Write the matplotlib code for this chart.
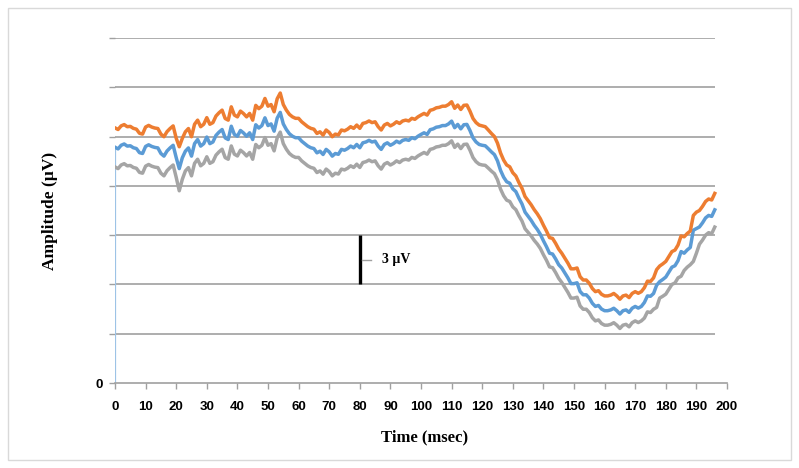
import matplotlib
matplotlib.use("Agg")
import matplotlib.pyplot as plt
from matplotlib.patches import Rectangle
import numpy as np

# ---------------- data ----------------
time_ms = list(range(0, 197))

orange = [15.53, 15.43, 15.65, 15.73, 15.60, 15.62, 15.50, 15.45, 15.20, 15.15,
          15.58, 15.68, 15.58, 15.52, 15.49, 15.15, 14.99, 15.30, 15.49, 15.65,
          14.90, 14.38, 14.89, 15.29, 15.49, 14.99, 15.75, 16.00, 15.60, 15.75,
          16.15, 15.75, 15.85, 16.25, 16.45, 16.61, 16.10, 16.00, 16.81, 16.31,
          16.20, 16.55, 16.40, 16.20, 16.41, 16.00, 16.90, 16.70, 16.85, 17.32,
          16.85, 16.95, 16.51, 17.30, 17.65, 16.95, 16.61, 16.35, 16.20, 16.11,
          16.11, 15.90, 15.75, 15.60, 15.50, 15.45, 15.19, 15.29, 15.09, 15.40,
          15.25, 14.99, 15.15, 15.10, 15.40, 15.35, 15.45, 15.60, 15.50, 15.70,
          15.50, 15.80, 15.85, 15.95, 15.85, 15.90, 15.60, 15.40, 15.70, 15.80,
          15.65, 15.75, 15.90, 15.80, 15.95, 16.00, 15.95, 16.11, 16.05, 16.20,
          16.31, 16.41, 16.31, 16.60, 16.65, 16.75, 16.78, 16.85, 16.85, 16.95,
          17.12, 16.72, 16.92, 16.65, 16.90, 16.92, 16.55, 16.10, 15.85, 15.70,
          15.65, 15.60, 15.40, 15.19, 15.00, 14.60, 14.00, 13.57, 13.27, 13.16,
          12.80, 12.60, 12.20, 11.85, 11.35, 11.10, 10.85, 10.55, 10.30, 10.00,
          9.61, 9.25, 8.85, 8.80, 8.50, 8.15, 7.90, 7.60, 7.30, 6.95,
          6.95, 7.00, 6.47, 6.27, 6.27, 6.07, 5.75, 5.56, 5.62, 5.40,
          5.30, 5.30, 5.35, 5.45, 5.30, 5.10, 5.30, 5.35, 5.20, 5.45,
          5.56, 5.46, 5.56, 5.80, 6.20, 6.18, 6.40, 6.90, 7.12, 7.25,
          7.40, 7.70, 8.00, 8.09, 8.40, 8.95, 8.90, 9.10, 9.25, 10.20,
          10.40, 10.50, 10.75, 11.05, 11.20, 11.14, 11.54]

blue = [14.35, 14.25, 14.47, 14.55, 14.42, 14.44, 14.32, 14.27, 14.02, 13.97,
        14.40, 14.50, 14.40, 14.34, 14.31, 13.97, 13.81, 14.12, 14.31, 14.47,
        13.72, 13.05, 13.71, 14.11, 14.31, 13.81, 14.57, 14.82, 14.42, 14.57,
        14.97, 14.57, 14.67, 15.07, 15.27, 15.43, 14.92, 14.82, 15.63, 15.13,
        15.02, 15.37, 15.22, 15.02, 15.23, 14.82, 15.72, 15.52, 15.67, 16.14,
        15.67, 15.77, 15.33, 16.12, 16.47, 15.77, 15.43, 15.17, 15.02, 14.93,
        14.93, 14.72, 14.57, 14.42, 14.32, 14.27, 14.01, 14.11, 13.91, 14.22,
        14.07, 13.81, 13.97, 13.92, 14.22, 14.17, 14.27, 14.42, 14.32, 14.52,
        14.32, 14.62, 14.67, 14.77, 14.67, 14.72, 14.42, 14.22, 14.52, 14.62,
        14.47, 14.57, 14.72, 14.62, 14.77, 14.82, 14.77, 14.93, 14.87, 15.02,
        15.13, 15.23, 15.13, 15.42, 15.47, 15.57, 15.60, 15.67, 15.67, 15.77,
        15.94, 15.54, 15.74, 15.47, 15.72, 15.74, 15.37, 14.92, 14.67, 14.52,
        14.47, 14.44, 14.26, 14.07, 13.90, 13.52, 12.94, 12.53, 12.25, 12.16,
        11.82, 11.65, 11.25, 10.90, 10.40, 10.15, 9.90, 9.60, 9.35, 9.05,
        8.66, 8.30, 7.90, 7.85, 7.55, 7.20, 7.00, 6.70, 6.40, 6.05,
        6.05, 6.10, 5.57, 5.37, 5.37, 5.17, 4.85, 4.66, 4.72, 4.50,
        4.40, 4.40, 4.45, 4.55, 4.40, 4.20, 4.40, 4.45, 4.30, 4.55,
        4.66, 4.56, 4.66, 4.90, 5.30, 5.28, 5.45, 5.95, 6.17, 6.30,
        6.45, 6.75, 7.05, 7.14, 7.45, 8.00, 7.90, 8.10, 8.25, 9.30,
        9.40, 9.50, 9.75, 10.05, 10.20, 10.14, 10.54]

gray = [13.15, 13.05, 13.27, 13.35, 13.22, 13.24, 13.12, 13.07, 12.82, 12.77,
        13.20, 13.30, 13.20, 13.14, 13.11, 12.77, 12.61, 12.92, 13.11, 13.27,
        12.52, 11.70, 12.40, 12.91, 13.11, 12.61, 13.37, 13.62, 13.22, 13.37,
        13.77, 13.37, 13.47, 13.87, 14.07, 14.23, 13.72, 13.62, 14.43, 13.93,
        13.82, 14.17, 14.02, 13.82, 14.03, 13.62, 14.52, 14.32, 14.47, 14.94,
        14.47, 14.57, 14.13, 14.92, 15.27, 14.57, 14.23, 13.97, 13.82, 13.73,
        13.73, 13.52, 13.37, 13.22, 13.12, 13.07, 12.81, 12.91, 12.71, 13.02,
        12.87, 12.61, 12.77, 12.72, 13.02, 12.97, 13.07, 13.22, 13.12, 13.32,
        13.12, 13.42, 13.47, 13.57, 13.47, 13.52, 13.22, 13.02, 13.32, 13.42,
        13.27, 13.37, 13.52, 13.42, 13.57, 13.62, 13.57, 13.73, 13.67, 13.82,
        13.93, 14.03, 13.93, 14.22, 14.27, 14.37, 14.40, 14.47, 14.47, 14.57,
        14.74, 14.34, 14.54, 14.27, 14.52, 14.54, 14.17, 13.72, 13.47, 13.32,
        13.27, 13.25, 13.08, 12.90, 12.74, 12.37, 11.80, 11.40, 11.13, 11.05,
        10.72, 10.55, 10.18, 9.86, 9.39, 9.17, 8.95, 8.68, 8.46, 8.19,
        7.81, 7.47, 7.07, 7.02, 6.72, 6.37, 6.12, 5.82, 5.52, 5.17,
        5.17, 5.22, 4.69, 4.49, 4.49, 4.29, 3.97, 3.78, 3.84, 3.62,
        3.52, 3.52, 3.57, 3.67, 3.52, 3.32, 3.52, 3.57, 3.42, 3.67,
        3.78, 3.68, 3.78, 3.95, 4.33, 4.29, 4.49, 4.60, 5.17, 5.28,
        5.41, 5.70, 6.00, 6.09, 6.40, 6.50, 6.85, 7.05, 7.20, 7.40,
        7.90, 8.45, 8.70, 9.00, 9.15, 9.09, 9.49]

x_ticks = list(range(0, 201, 10))
y_ticks = [0, 3, 6, 9, 12, 15, 18, 21]
y_tick_labels = ["0", "", "", "", "", "", "", ""]

scale_time = 80
scale_lo, scale_hi = 6, 9
scale_label = "3 µV"

# ---------------- figure ----------------
W, H = 799, 468
fig = plt.figure(figsize=(W / 100, H / 100), dpi=100)
fig.patch.set_facecolor("white")
ax = fig.add_axes([115 / W, 1 - 383 / H, 612 / W, 345 / H])

grid_col = "#a0a0a0"
ax.hlines(y_ticks[1:], time_ms[0], time_ms[-1], color=grid_col, lw=1.2, zorder=1)

lw = 2.5
ax.plot(time_ms, gray, color="#A5A5A5", lw=lw, zorder=3)
ax.plot(time_ms, blue, color="#5B9BD5", lw=lw, zorder=4)
ax.plot(time_ms, orange, color="#ED7D31", lw=lw, zorder=5)
# vertical start segment of the blue trace from zero
ax.plot([time_ms[0], time_ms[0]], [0, blue[0]], color="#9DC3E6", lw=1.6, zorder=2)

# scale bar
ax.plot([scale_time, scale_time], [scale_lo, scale_hi], color="black", lw=2.4,
        solid_capstyle="butt", zorder=6)
mid = (scale_lo + scale_hi) / 2
ax.plot([scale_time + 0.8, scale_time + 3.6], [mid, mid], color=grid_col, lw=1, zorder=6)
ax.text(scale_time + 7.4, mid, scale_label, va="center", ha="left",
        fontfamily="Liberation Serif", fontweight="bold", fontsize=10)

ax.set_xlim(0, 200)
ax.set_ylim(0, 21)
for s in ["top", "right", "left"]:
    ax.spines[s].set_visible(False)
ax.spines["bottom"].set_color(grid_col)
ax.spines["bottom"].set_linewidth(1.2)

ax.set_xticks(x_ticks)
ax.set_xticklabels([str(v) for v in x_ticks], fontfamily="Liberation Sans",
                   fontweight="bold", fontsize=9.5)
ax.set_yticks(y_ticks)
ax.set_yticklabels(y_tick_labels, fontfamily="Liberation Sans",
                   fontweight="bold", fontsize=9.5)
ax.tick_params(axis="x", direction="out", length=4, width=1, color=grid_col, pad=9)
ax.tick_params(axis="y", direction="out", length=4, width=1, color=grid_col, pad=5)

fig.text(425 / W, 1 - 437 / H, "Time (msec)", ha="center", va="center",
         fontfamily="Liberation Serif", fontweight="bold", fontsize=12)
fig.text(50 / W, 1 - 211 / H, "Amplitude (µV)", ha="center", va="center",
         rotation=90, fontfamily="Liberation Serif", fontweight="bold", fontsize=12.5)

fig.patches.append(Rectangle((8 / W, 8 / H), 783 / W, 452 / H, transform=fig.transFigure,
                             fill=False, ec="#d9d9d9", lw=1))

fig.savefig("out.png", dpi=100)
